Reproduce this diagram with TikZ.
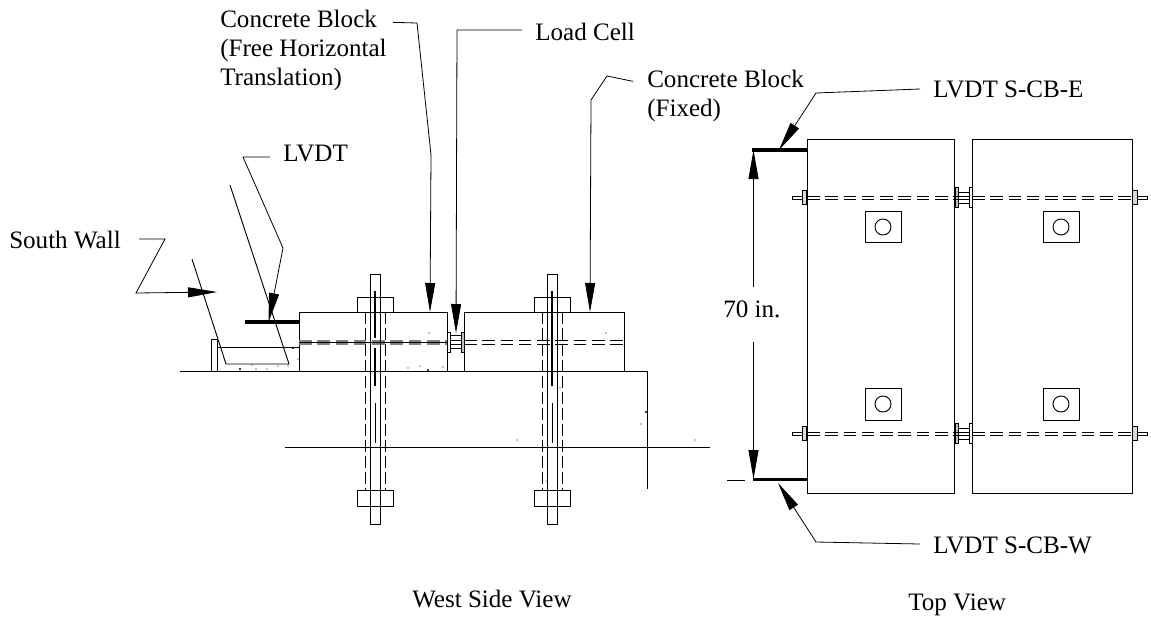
\documentclass[tikz,border=0pt]{standalone}
\usepackage{fontspec}
\setmainfont{Liberation Serif}
\usetikzlibrary{arrows.meta}
\tikzset{
    lbltext/.style = {inner sep=0pt,align=left,anchor=base west,font=\fontsize{18.8}{21.75}\selectfont},
    edgel/.style = {line width=0.6pt,-{Triangle[length=21.75pt,width=7.5pt]}},
    edgek/.style = {line width=2.6pt},
    edgec/.style = {line width=0.7pt},
    edged/.style = {line width=0.6pt,dash pattern=on 9.5pt off 4.2pt},
    edgedh/.style = {line width=1.5pt,gray,dash pattern=on 9.5pt off 4.2pt},
    edgem/.style = {line width=1.6pt},
    edgemd/.style = {line width=0.6pt,dash pattern=on 9pt off 3pt},
    speck/.style = {fill=black}
}
\begin{document}
\begin{tikzpicture}[x=0.75pt,y=-0.75pt]
\useasboundingbox (0,0) rectangle (1151,618);
%
\node[lbltext] at (220,85) (lblfree) {Concrete Block\\(Free Horizontal\\Translation)};
\node[lbltext] at (535,40) (lblload) {Load Cell};
\node[lbltext] at (647,116) (lblfixed) {Concrete Block\\(Fixed)};
\node[lbltext] at (283,161) (lbllvdt) {LVDT};
\node[lbltext] at (9,248) (lblsouth) {South Wall};
\node[lbltext] at (933,97) (lble) {LVDT S-CB-E};
\node[lbltext] at (933,553) (lblw) {LVDT S-CB-W};
\node[lbltext] at (723,317) (lbldim) {70 in.};
\node[lbltext] at (412,607) (lblwest) {West Side View};
\node[lbltext] at (908,610) (lbltop) {Top View};
%
\coordinate (tipfree) at (430,312);
\coordinate (tipload) at (456,333);
\coordinate (tipfixed) at (590,312);
\coordinate (tiplvdt) at (268.5,322);
\coordinate (tipsouth) at (217,292);
\coordinate (tipe) at (779,150);
\coordinate (tipw) at (778,483);
\coordinate (dimtop) at (753.5,150);
\coordinate (dimbot) at (753.5,479);
%
% leaders
\draw[edgel] ([shift={(6,13)}]lblfree.north east) -- (417,23) -- (431,155) -- (tipfree);
\draw[edgel] ([shift={(-13,-10)}]lblload.base west) -- (457,30) -- (tipload);
\draw[edgel] ([shift={(-14,12)}]lblfixed.north west) -- (607,76) -- (591,100) -- (tipfixed);
\draw[edgel] ([shift={(-13,-4)}]lbllvdt.base west) -- (243,157) -- (283,248) -- (tiplvdt);
\draw[edgel] ([shift={(18,-9)}]lblsouth.base east) -- (165,239) -- (136,293) -- (tipsouth);
\draw[edgel] ([shift={(-13,-8)}]lble.base west) -- (816,93) -- (tipe);
\draw[edgel] ([shift={(-13,-9)}]lblw.base west) -- (816,542) -- (tipw);
\draw[edgel] (lbldim.north -| dimtop) ++(0,-13) -- (dimtop);
\draw[edgel] (lbldim.south -| dimbot) ++(0,24) -- (dimbot);
%
% west side view
\draw[edgec] (230,185) -- (289,364) -- (226,364) -- (192,259);
\draw[edgek] (245,322) -- (299,322);
\draw[edgec] (211,371.5) -- (211,339) -- (217,339) -- (217,371.5);
\draw[edgec] (217,347) -- (299,347);
\draw[edgec] (180,371.5) -- (647,371.5) -- (647,489);
\draw[edgec] (285,447) -- (710,447);
\draw[edgec] (299,371.5) rectangle (447,312);
\draw[edgec] (464,371.5) rectangle (624,312);
\draw[edged] (464,340) -- (624,340);
\draw[edged] (464,344) -- (624,344);
\draw[edgedh] (299,340.5) -- (447,340.5);
\draw[edgedh] (299,343.5) -- (447,343.5);
\draw[edgec] (299,342) -- (447,342);
%
\draw[edgec] (447,332) rectangle (450,352);
\draw[edgec,fill=gray!50] (461.7,332) rectangle (464.3,352);
\draw[edgec] (450,335.7) -- (461.7,335.7);
\draw[edgec] (450,348.7) -- (461.7,348.7);
\draw[edgec] (450,340) -- (461.7,340);
\draw[edgec] (450,344) -- (461.7,344);
%
\draw[edgec] (370,274) rectangle (380,524);
\draw[edgec] (357,312) rectangle (393,297);
\draw[edgec] (357,490) rectangle (393,506);
\draw[edgemd] (365,312) -- (365,490);
\draw[edgemd] (385,312) -- (385,490);
\draw[edgem] (375,291) -- (375,338);
\draw[edgem] (375,348) -- (375,386);
\draw[edgec] (375,403) -- (375,443);
%
\draw[edgec] (547,274) rectangle (557,524);
\draw[edgec] (534.5,312) rectangle (570.5,297);
\draw[edgec] (534.5,490) rectangle (570.5,506);
\draw[edgemd] (542,312) -- (542,490);
\draw[edgemd] (562,312) -- (562,490);
\draw[edgem,line width=1.2pt] (552,291) -- (552,386);
\draw[edgec] (552,403) -- (552,443);
%
\fill[speck] (429,333) circle (0.7) (408,368) circle (0.7) (420,366) circle (0.7) (428,370) circle (1.2)
    (443,367) circle (0.7) (606,333) circle (0.7) (560,388) circle (0.7) (646,412) circle (1.2)
    (641,424) circle (0.7) (517,440) circle (0.7) (695,440) circle (0.7) (547,481) circle (0.7)
    (293,348) circle (1.2) (240,369) circle (1.2) (252,365) circle (0.7) (256,369) circle (0.7)
    (267,369) circle (0.7) (278,366) circle (0.7) (288,366) circle (0.7) (298,359) circle (0.7);
%
% top view
\draw[edgec] (807,139) rectangle (954,493);
\draw[edgec] (972,139) rectangle (1132,493);
\draw[edgek] (752,150) -- (807,150);
\draw[edgek] (753,479.5) -- (807,479.5);
\draw[edgec] (727,480) -- (745,480);
%
\draw[edgec] (865,211) rectangle (901,242);
\draw[edgec] (883,227) circle (8);
\draw[edgec] (1043,211) rectangle (1079,242);
\draw[edgec] (1061,227) circle (8);
\draw[edgec] (865,388) rectangle (901,420);
\draw[edgec] (883,404) circle (8);
\draw[edgec] (1043,388) rectangle (1079,420);
\draw[edgec] (1061,404) circle (8);
%
\begin{scope}
\draw[edged] (807,196) -- (954,196);
\draw[edged] (807,199) -- (954,199);
\draw[edged] (972,196) -- (1132,196);
\draw[edged] (972,199) -- (1132,199);
\draw[edgec] (802,196) -- (792,196) -- (792,199) -- (802,199);
\draw[edgec] (1137,196) -- (1147,196) -- (1147,199) -- (1137,199);
\draw[edgec,fill=gray!30] (802,190.7) rectangle (806.5,204.7);
\draw[edgec,fill=gray!30] (1132.7,190.7) rectangle (1137,204.7);
\draw[edgec,fill=gray!50] (955,187) rectangle (958,207);
\draw[edgec] (969,187) rectangle (972,207);
\draw[edgec] (958,192) -- (969,192);
\draw[edgec] (958,203) -- (969,203);
\draw[edgec] (954,196) -- (969,196);
\draw[edgec] (954,199) -- (969,199);
\end{scope}
\begin{scope}[shift={(0,236)}]
\draw[edged] (807,196) -- (954,196);
\draw[edged] (807,199) -- (954,199);
\draw[edged] (972,196) -- (1132,196);
\draw[edged] (972,199) -- (1132,199);
\draw[edgec] (802,196) -- (792,196) -- (792,199) -- (802,199);
\draw[edgec] (1137,196) -- (1147,196) -- (1147,199) -- (1137,199);
\draw[edgec,fill=gray!30] (802,190.7) rectangle (806.5,204.7);
\draw[edgec,fill=gray!30] (1132.7,190.7) rectangle (1137,204.7);
\draw[edgec,fill=gray!50] (955,187) rectangle (958,207);
\draw[edgec] (969,187) rectangle (972,207);
\draw[edgec] (958,192) -- (969,192);
\draw[edgec] (958,203) -- (969,203);
\draw[edgec] (954,196) -- (969,196);
\draw[edgec] (954,199) -- (969,199);
\end{scope}
\end{tikzpicture}
\end{document}
